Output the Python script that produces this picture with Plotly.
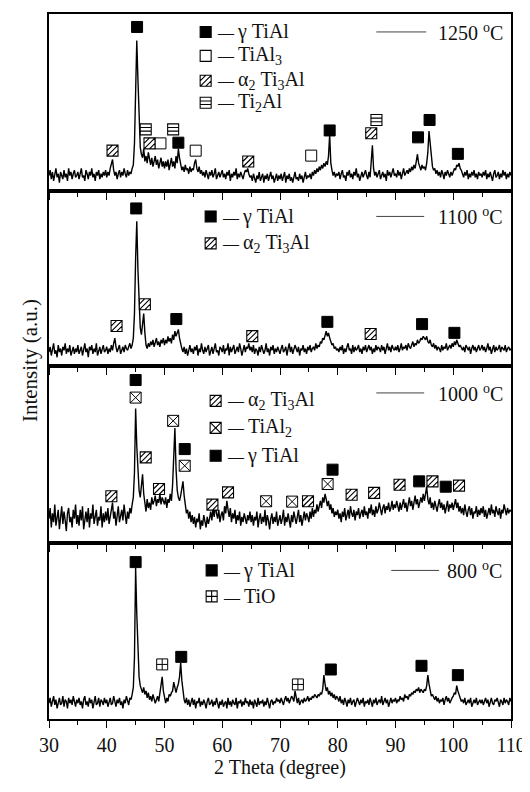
import plotly.graph_objects as go
from plotly.subplots import make_subplots

# ---------------- data ----------------
two_theta_start = 30.0
two_theta_step = 0.2

temps = ["1250", "1100", "1000", "800"]

i_1250 = [
 9,12,7,11,6,10,13,8,10,5,11,9,7,12,8,10,6,13,9,11,7,10,12,8,9,
 11,7,10,13,8,9,6,12,10,7,11,9,13,8,10,6,11,9,12,7,10,8,11,9,12,
 8,11,9,13,16,18,12,9,11,7,10,12,8,11,9,13,10,8,12,9,11,10,13,15,27,
 58,85,63,36,25,21,19,24,17,20,16,22,18,15,19,14,17,20,15,18,13,16,19,14,17,
 13,17,14,18,12,16,19,14,17,13,20,16,24,19,15,12,14,11,15,12,13,10,14,11,13,
 12,16,18,13,11,14,10,12,9,11,8,12,10,7,11,9,12,8,10,13,7,9,11,8,10,
 12,8,10,7,11,9,12,6,10,8,11,9,13,7,10,8,11,9,7,10,12,11,13,10,8,
 9,6,10,8,5,9,7,11,6,8,10,5,9,7,10,6,8,11,7,9,5,8,10,6,9,
 7,10,6,8,11,5,9,7,10,6,8,5,9,11,7,8,6,10,7,9,5,8,11,7,9,
 8,10,7,11,9,12,10,13,11,14,12,15,13,16,14,17,15,20,32,16,12,9,11,8,10,
 9,11,7,10,12,8,9,6,11,9,12,8,10,7,11,9,13,8,10,6,9,11,8,10,12,
 9,7,11,8,17,26,13,9,11,8,10,12,7,9,11,8,10,6,12,9,11,8,10,13,9,
 10,8,12,9,11,7,10,13,9,11,12,10,13,11,14,12,15,13,17,21,16,14,12,15,13,
 14,12,16,22,34,27,18,14,12,13,10,12,9,11,8,12,10,7,11,9,12,10,8,11,9,
 11,13,12,15,14,16,13,12,10,8,11,9,12,7,10,8,11,9,12,8,10,7,11,9,10,
 8,11,9,12,7,10,8,11,9,6,10,12,8,9,11,7,10,8,12,9,11,7,10,8,11,
 9]

i_1100 = [
 8,11,6,10,13,7,9,5,12,8,10,6,11,9,13,7,10,8,12,6,9,11,7,10,8,
 12,7,9,11,6,10,13,8,10,5,11,9,12,7,10,8,13,6,9,11,7,10,12,8,9,
 11,7,10,8,12,9,13,16,11,8,10,12,7,9,11,8,12,10,9,11,13,10,12,16,30,
 62,83,55,32,22,18,24,30,19,12,10,13,11,14,12,15,11,13,16,12,14,11,15,13,16,
 12,15,13,17,14,16,13,18,15,20,17,19,21,16,12,10,8,11,7,10,6,9,12,8,10,
 7,11,9,12,6,10,8,13,9,7,11,8,10,12,6,9,11,7,10,13,8,9,6,11,10,
 8,12,7,10,9,13,6,11,8,10,12,7,9,11,8,13,10,6,9,12,8,11,10,13,9,
 11,8,12,7,10,9,6,11,8,12,10,7,9,13,8,10,6,11,9,12,7,10,8,11,9,
 7,10,12,8,9,11,6,10,13,8,11,7,9,12,10,8,11,6,10,9,12,8,10,7,11,
 9,12,8,10,11,9,13,10,12,11,14,13,16,15,18,20,17,19,16,14,12,13,10,11,9,
 10,8,11,9,12,7,10,8,11,13,9,10,7,12,8,11,9,10,12,8,10,7,11,9,12,
 8,10,12,9,11,7,10,8,12,9,11,10,8,12,9,11,7,10,13,9,11,8,12,10,9,
 11,9,12,8,10,13,9,11,10,12,9,13,11,10,12,14,11,13,12,15,13,14,16,15,17,
 16,15,17,14,13,15,12,11,13,10,12,9,11,10,8,12,9,11,10,13,9,11,12,10,13,
 11,14,12,15,13,11,12,10,9,11,8,12,10,9,11,7,10,12,9,11,8,10,12,9,10,
 12,9,11,8,10,13,9,11,7,10,12,8,11,9,10,12,8,11,10,9,12,8,10,11,9,
 10]

i_1000 = [
 14,20,9,17,12,22,10,16,19,8,15,21,11,18,13,7,17,20,12,15,9,19,14,22,11,
 16,10,19,13,21,8,15,18,12,20,9,17,14,22,11,16,19,10,15,13,21,9,17,12,18,
 13,20,11,16,19,23,14,18,10,17,21,12,15,19,13,22,16,11,18,14,20,17,22,26,40,
 76,55,38,30,26,31,39,28,22,18,25,20,23,19,26,22,24,27,21,25,23,28,22,26,24,
 22,26,20,25,23,28,24,33,50,65,42,30,26,24,27,31,35,27,20,17,19,14,18,12,16,
 11,15,9,14,12,17,8,13,10,16,12,9,15,11,14,18,13,20,15,22,17,14,19,12,16,
 18,13,21,17,24,19,15,20,12,17,14,19,11,16,13,18,10,15,12,17,14,11,16,13,18,
 12,16,10,15,13,18,9,14,17,11,15,12,19,10,16,13,8,14,17,11,15,12,18,10,14,
 16,11,14,19,10,15,12,17,13,9,16,12,18,14,11,15,19,12,16,10,14,18,13,17,15,
 12,18,14,20,15,19,17,22,18,21,24,20,26,23,28,25,21,24,19,22,17,20,15,18,16,
 19,14,17,12,18,15,20,13,16,19,14,21,17,15,19,13,18,16,20,14,17,19,15,21,16,
 18,14,20,17,22,16,19,15,21,17,19,23,18,16,20,22,17,21,19,23,18,20,24,19,22,
 20,24,21,18,23,19,22,25,20,23,18,22,26,21,24,19,23,27,22,25,20,24,26,23,28,
 24,27,32,25,22,26,20,23,19,24,21,18,22,25,20,23,19,22,17,21,24,18,22,20,23,
 19,22,25,20,23,18,21,17,20,16,22,18,15,19,21,16,20,14,18,17,21,15,19,16,20,
 17,21,15,19,14,18,20,16,22,17,19,15,21,18,16,20,14,19,17,22,18,16,20,17,19,
 18]

i_800 = [
 9,12,7,10,13,8,11,6,10,12,8,9,13,7,11,10,6,12,9,11,8,13,10,7,11,
 9,12,8,10,6,11,13,8,10,7,12,9,11,6,10,13,8,9,12,7,11,10,8,12,9,
 11,7,10,12,8,9,13,10,7,11,9,12,8,10,6,11,9,13,10,8,12,11,14,18,35,
 86,60,34,24,19,17,15,18,14,16,12,15,11,13,10,14,12,9,11,13,10,14,18,24,16,
 11,9,12,10,14,13,15,16,21,17,15,18,20,24,32,22,14,11,9,12,8,11,7,10,12,
 8,11,6,10,9,12,7,10,8,11,9,6,10,12,8,9,11,7,10,8,12,9,6,10,8,
 11,7,9,10,6,12,8,10,7,11,9,8,12,6,10,9,11,7,10,8,12,9,10,7,11,
 8,10,6,11,9,7,12,8,10,9,11,7,10,8,12,9,6,10,11,8,10,9,12,10,11,
 9,12,10,8,11,13,10,12,9,11,13,12,10,16,11,9,12,8,10,11,9,12,10,11,13,
 10,12,11,13,12,14,13,12,14,13,15,14,17,25,20,16,18,14,16,13,15,12,14,11,13,
 12,10,13,9,11,8,12,10,7,11,9,12,8,10,11,7,9,12,10,8,11,9,12,7,10,
 9,11,8,12,10,7,11,9,12,8,10,11,9,13,8,10,12,9,11,7,10,12,9,11,10,
 12,9,11,10,13,11,12,10,14,12,13,11,14,13,15,14,16,15,17,16,18,15,17,16,15,
 17,16,19,25,20,15,13,14,12,11,13,10,12,9,11,10,12,8,11,13,10,12,9,11,12,
 13,15,14,19,16,13,12,10,11,9,12,8,10,11,9,12,7,10,11,9,12,8,10,11,9,
 11,8,10,12,9,11,7,10,12,9,8,11,10,12,9,7,11,10,8,12,9,11,10,8,12,
 10]

# phase markers: (2theta, intensity) per panel
p1_gamma_x = [45.25, 52.4, 78.6, 93.9, 95.9, 100.8]
p1_gamma_y = [92.7, 27.5, 34.4, 30.5, 40.3, 21.2]
p1_tial3_x = [49.3, 55.4, 75.4]
p1_tial3_y = [27.1, 23.0, 20.2]
p1_alpha_x = [41.0, 47.4, 64.5, 85.8]
p1_alpha_y = [23.0, 27.1, 16.9, 32.8]
p1_ti2al_x = [46.75, 51.5, 86.7]
p1_ti2al_y = [35.0, 35.0, 40.3]

p2_gamma_x = [45.1, 52.05, 78.2, 94.6, 100.2]
p2_gamma_y = [90.3, 26.9, 25.3, 24.0, 19.0]
p2_alpha_x = [41.7, 46.6, 65.2, 85.7]
p2_alpha_y = [22.9, 35.4, 17.1, 18.3]

p3_gamma_x = [45.0, 53.5, 79.1, 94.1, 98.7]
p3_gamma_y = [92.1, 53.2, 41.6, 35.0, 32.0]
p3_tial2_x = [45.0, 51.5, 53.5, 67.6, 72.1, 78.25]
p3_tial2_y = [82.2, 69.1, 43.8, 23.8, 23.6, 33.5]
p3_alpha_x = [40.8, 46.75, 49.05, 58.3, 61.0, 74.85, 82.4, 86.3, 90.7, 96.4, 101.0]
p3_alpha_y = [26.6, 48.5, 30.7, 21.9, 28.8, 23.8, 27.5, 28.5, 33.1, 35.0, 32.6]

p4_gamma_x = [45.0, 52.9, 78.8, 94.5, 100.8]
p4_gamma_y = [89.4, 35.4, 28.2, 30.3, 25.0]
p4_tio_x = [49.6, 73.1]
p4_tio_y = [31.1, 19.7]

x_ticks = [30, 40, 50, 60, 70, 80, 90, 100, 110]

# ---------------- layout helpers (page pixel coordinates) ----------------
OFF = 8                      # default body margin of the html page
PAGE_W, PAGE_H = 530, 792
W, H = PAGE_W - OFF, PAGE_H - OFF
PL, PR, PT, PB = 49, 512, 12, 719   # plot area in page pixels
ML, MT = PL - OFF, PT - OFF
MR, MB = PAGE_W - PR, PAGE_H - PB

def fx(px):
    return (px - PL) / (PR - PL)
def fy(py):
    return (PB - py) / (PB - PT)

FONT = "Liberation Serif"

fig = make_subplots(rows=4, cols=1, shared_xaxes=True, vertical_spacing=0,
                    row_heights=[178, 175, 178, 176])

series = [i_1250, i_1100, i_1000, i_800]
for r, ys in enumerate(series, start=1):
    xs = [two_theta_start + two_theta_step * k for k in range(len(ys))]
    fig.add_trace(go.Scatter(x=xs, y=ys, mode="lines",
                             line=dict(color="black", width=1.4),
                             showlegend=False, hoverinfo="skip"), row=r, col=1)

def marker_trace(x, y, r, symbol, fill):
    fig.add_trace(go.Scatter(x=x, y=y, mode="markers",
                             marker=dict(symbol=symbol, size=11, color=fill,
                                         line=dict(color="black", width=1)),
                             showlegend=False), row=r, col=1)

S = 5.5
def sym_path(kind):
    sq = f"M{-S},{-S}H{S}V{S}H{-S}Z"
    if kind == "hatch":
        return sq + f"M0,{-S}L{S},0M{-S},{-S}L{S},{S}M{-S},0L0,{S}"
    if kind == "hlines":
        return sq + f"M{-S},-1.8H{S}M{-S},1.8H{S}"
    if kind == "x":
        return sq + f"M{-S},{-S}L{S},{S}M{-S},{S}L{S},{-S}"
    if kind == "cross":
        return sq + f"M0,{-S}V{S}M{-S},0H{S}"
    return sq

shapes = []
def sym_shape(kind, xa, ya, xref, yref):
    fill = "black" if kind == "filled" else "white"
    shapes.append(dict(type="path", xref=xref, yref=yref,
                       xsizemode="pixel", ysizemode="pixel",
                       xanchor=xa, yanchor=ya, path=sym_path(kind),
                       fillcolor=fill, line=dict(color="black", width=1.1),
                       layer="above"))

def shape_points(x, y, r, kind):
    sfx = "" if r == 1 else str(r)
    for xv, yv in zip(x, y):
        sym_shape(kind, xv, yv, "x" + sfx, "y" + sfx)

# panel 1
shape_points(p1_alpha_x, p1_alpha_y, 1, "hatch")
shape_points(p1_ti2al_x, p1_ti2al_y, 1, "hlines")
marker_trace(p1_tial3_x, p1_tial3_y, 1, "square", "white")
marker_trace(p1_gamma_x, p1_gamma_y, 1, "square", "black")
# panel 2
shape_points(p2_alpha_x, p2_alpha_y, 2, "hatch")
marker_trace(p2_gamma_x, p2_gamma_y, 2, "square", "black")
# panel 3
shape_points(p3_alpha_x, p3_alpha_y, 3, "hatch")
marker_trace(p3_tial2_x, p3_tial2_y, 3, "square-x", "white")
marker_trace(p3_gamma_x, p3_gamma_y, 3, "square", "black")
# panel 4
marker_trace(p4_tio_x, p4_tio_y, 4, "square-cross", "white")
marker_trace(p4_gamma_x, p4_gamma_y, 4, "square", "black")

for r in range(1, 5):
    fig.update_xaxes(range=[30, 110], showline=True, linecolor="black", linewidth=1.5,
                     mirror=True, ticks="outside", ticklen=7, tickwidth=1.3,
                     tickcolor="black", tick0=30, dtick=10,
                     minor=dict(ticks="outside", ticklen=4, dtick=5, tickcolor="black",
                                tickwidth=1.2, showgrid=False),
                     showgrid=False, zeroline=False, row=r, col=1)
    fig.update_yaxes(range=[0, 100], showline=True, linecolor="black", linewidth=1.5,
                     mirror=True, ticks="", showticklabels=False, showgrid=False,
                     zeroline=False, row=r, col=1)

fig.update_xaxes(tickvals=x_ticks, ticktext=[str(t) for t in x_ticks],
                 tickfont=dict(family=FONT, size=20, color="#111"),
                 title=dict(text="2 Theta (degree)", font=dict(family=FONT, size=20, color="#111"),
                            standoff=4),
                 row=4, col=1)

annotations = []

legend_rows = [
    (206, 30, "filled", "γ TiAl"),
    (206, 54, "open", "TiAl<sub>3</sub>"),
    (206, 79, "hatch", "α<sub>2</sub> Ti<sub>3</sub>Al"),
    (206, 101, "hlines", "Ti<sub>2</sub>Al"),
    (211, 215, "filled", "γ TiAl"),
    (211, 242, "hatch", "α<sub>2</sub> Ti<sub>3</sub>Al"),
    (216, 400, "hatch", "α<sub>2</sub> Ti<sub>3</sub>Al"),
    (216, 427, "x", "TiAl<sub>2</sub>"),
    (216, 455, "filled", "γ TiAl"),
    (212, 570, "filled", "γ TiAl"),
    (212, 596, "cross", "TiO"),
]
for px, py, kind, t in legend_rows:
    sym_shape(kind, fx(px), fy(py), "paper", "paper")
    annotations.append(dict(x=fx(px + 9), y=fy(py), xref="paper", yref="paper",
                            xanchor="left", yanchor="middle", showarrow=False,
                            text="<span style='font-size:16px'>— </span>" + t,
                            font=dict(family=FONT, size=20, color="#111")))

temp_rows = [
    (377, 427, 437, 30, temps[0]),
    (377, 425, 437, 215, temps[1]),
    (377, 425, 437, 392, temps[2]),
    (392, 440, 446, 570, temps[3]),
]
for x0, x1, tx, py, t in temp_rows:
    shapes.append(dict(type="line", xref="paper", yref="paper",
                       x0=fx(x0), x1=fx(x1), y0=fy(py), y1=fy(py),
                       line=dict(color="#444", width=1)))
    annotations.append(dict(x=fx(tx), y=fy(py), xref="paper", yref="paper",
                            xanchor="left", yanchor="middle", showarrow=False,
                            text=t + " <sup>o</sup>C",
                            font=dict(family=FONT, size=20, color="#111")))

annotations.append(dict(x=fx(30), y=fy(360), xref="paper", yref="paper",
                        xanchor="center", yanchor="middle", showarrow=False,
                        textangle=-90, text="Intensity (a.u.)",
                        font=dict(family=FONT, size=21, color="#111")))

fig.update_layout(width=W, height=H,
                  margin=dict(l=ML, r=MR, t=MT, b=MB, pad=0),
                  paper_bgcolor="white", plot_bgcolor="white",
                  font=dict(family=FONT, color="#111"),
                  showlegend=False,
                  annotations=annotations, shapes=shapes)

fig.write_html("out.html")
